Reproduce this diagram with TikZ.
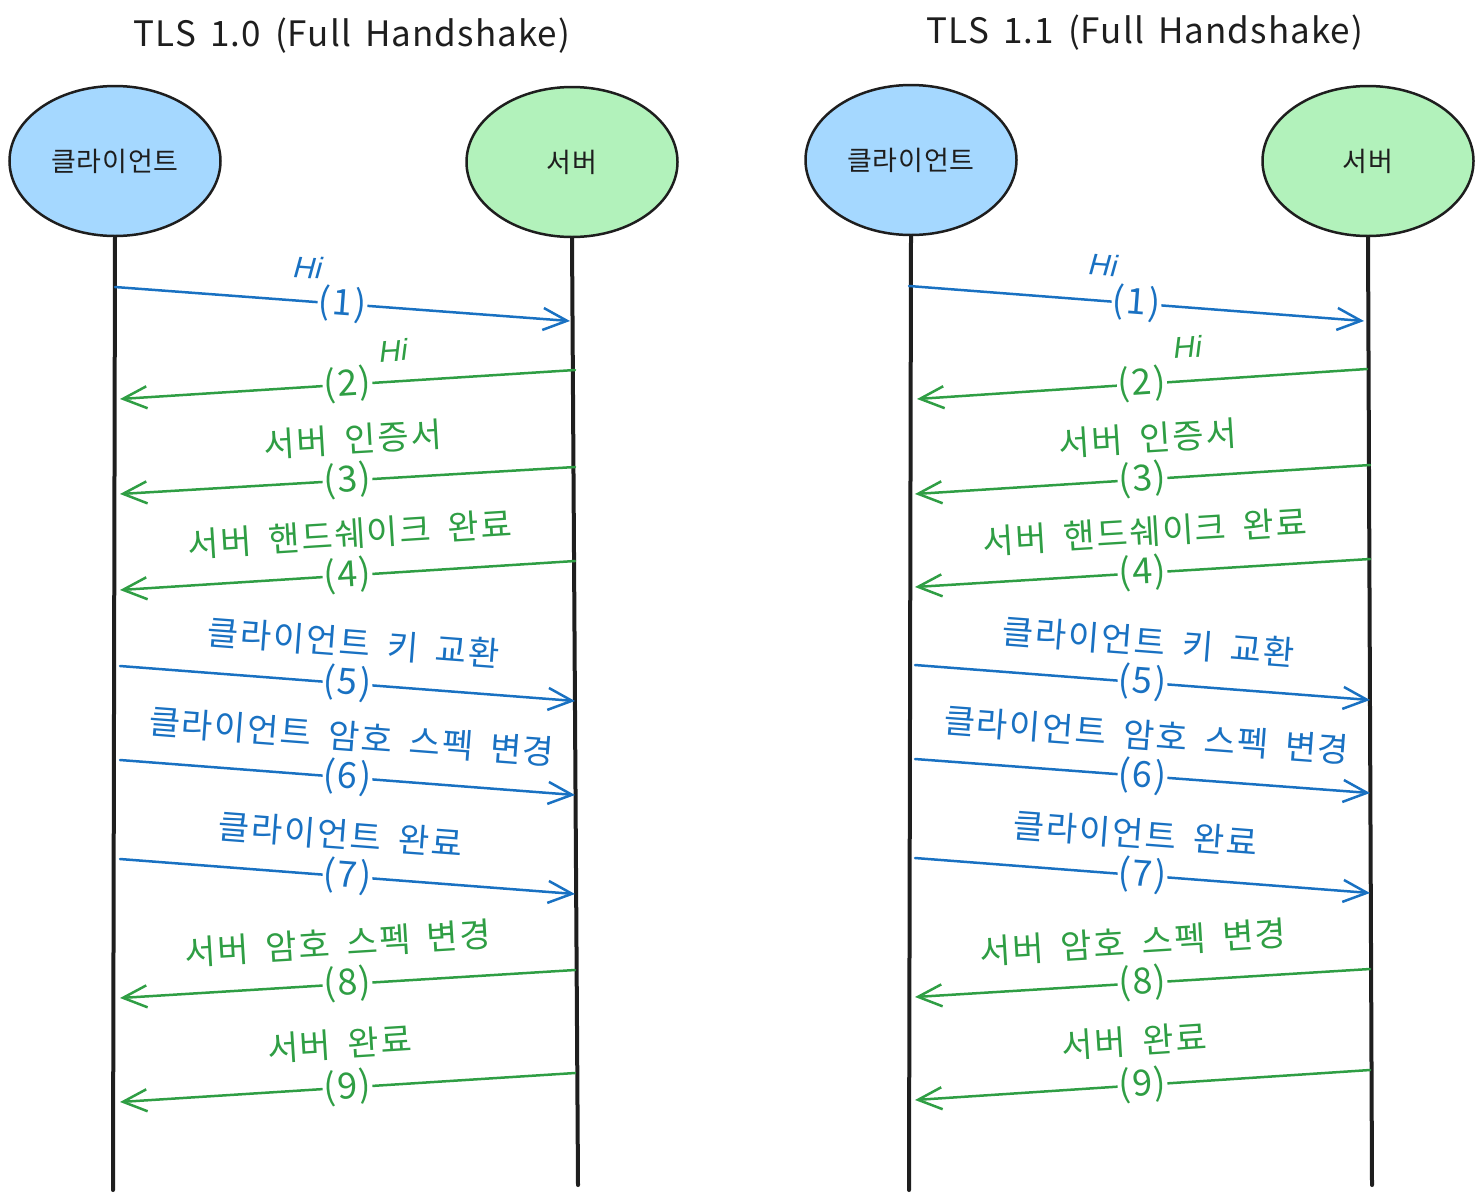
\documentclass[tikz,border=0pt]{standalone}
\usepackage{fontspec}
\setmainfont{Noto Sans CJK KR}
\newfontfamily\hifont{Liberation Sans}
\newfontfamily\widefont[LetterSpace=5,WordSpace=1.8]{Noto Sans CJK KR}
\newfontfamily\titlefont[LetterSpace=3,WordSpace=1.6]{Noto Sans CJK KR}
\usetikzlibrary{shapes.geometric,arrows.meta}
\definecolor{cblue}{HTML}{1971C2}
\definecolor{cgreen}{HTML}{2F9E44}
\definecolor{cink}{HTML}{1E1E1E}
\definecolor{cfillb}{HTML}{A5D8FF}
\definecolor{cfillg}{HTML}{B2F2BB}
\tikzset{
  actor/.style={ellipse, draw=cink, line width=2.5pt, minimum width=211pt, minimum height=150pt, inner sep=0pt, text=cink, font=\titlefont\fontsize{27}{32}\selectfont},
  lifeline/.style={draw=cink, line width=4pt, line cap=round},
  msg/.style={line width=2.5pt, line cap=round, line join=round, -{Straight Barb[length=24pt,width=22pt]}},
  bmsg/.style={msg, color=cblue},
  gmsg/.style={msg, color=cgreen},
  num/.style={midway, sloped, fill=white, inner sep=1pt, font=\widefont\fontsize{36}{42}\selectfont},
  lbl/.style={midway, sloped, yshift=41pt, inner sep=0pt, font=\widefont\fontsize{34}{40}\selectfont},
  hi/.style={midway, sloped, yshift=34pt, inner sep=0pt, font=\hifont\itshape\fontsize{30}{34}\selectfont},
  ttl/.style={text=cink, font=\titlefont\fontsize{35}{42}\selectfont}
}
\begin{document}
\begin{tikzpicture}[x=1pt,y=-1pt]
\useasboundingbox (0,0) rectangle (1482,1200);

% ---------- Left: TLS 1.0 ----------
\node[ttl] (t1) at (352,36) {TLS 1.0 (Full Handshake)};
\node[actor, fill=cfillb] (cl) at (115,161) {클라이언트};
\node[actor, fill=cfillg] (sv) at (572,162) {서버};
\coordinate (clEnd) at (113,1190);
\coordinate (svEnd) at (578,1185);
\draw[lifeline] (cl.south) -- (clEnd);
\draw[lifeline] (sv.south) -- (svEnd);

\coordinate (a1s) at (115,287);  \coordinate (a1e) at (570,321);
\coordinate (a2s) at (575,370);  \coordinate (a2e) at (120,399);
\coordinate (a3s) at (575,467);  \coordinate (a3e) at (120,494);
\coordinate (a4s) at (575,561);  \coordinate (a4e) at (120,590);
\coordinate (a5s) at (120,666);  \coordinate (a5e) at (575,701);
\coordinate (a6s) at (120,760);  \coordinate (a6e) at (575,795);
\coordinate (a7s) at (120,859);  \coordinate (a7e) at (575,894);
\coordinate (a8s) at (575,970);  \coordinate (a8e) at (120,998);
\coordinate (a9s) at (575,1073); \coordinate (a9e) at (120,1102);

\draw[bmsg] (a1s) -- node[num] (n1) {(1)} node[hi, xshift=-37pt] (h1) {Hi} (a1e);
\draw[gmsg] (a2s) -- node[num] (n2) {(2)} node[hi, xshift=48pt, yshift=-3pt] (h2) {Hi} (a2e);
\draw[gmsg] (a3s) -- node[num] (n3) {(3)} node[lbl, xshift=8pt] (l3) {서버 인증서} (a3e);
\draw[gmsg] (a4s) -- node[num] (n4) {(4)} node[lbl, xshift=5pt] (l4) {서버 핸드쉐이크 완료} (a4e);
\draw[bmsg] (a5s) -- node[num] (n5) {(5)} node[lbl, xshift=3pt] (l5) {클라이언트 키 교환} (a5e);
\draw[bmsg] (a6s) -- node[num] (n6) {(6)} node[lbl, xshift=1pt] (l6) {클라이언트 암호 스펙 변경} (a6e);
\draw[bmsg] (a7s) -- node[num] (n7) {(7)} node[lbl, xshift=-10pt] (l7) {클라이언트 완료} (a7e);
\draw[gmsg] (a8s) -- node[num] (n8) {(8)} node[lbl, xshift=-7pt] (l8) {서버 암호 스펙 변경} (a8e);
\draw[gmsg] (a9s) -- node[num] (n9) {(9)} node[lbl, xshift=-5pt, yshift=3pt] (l9) {서버 완료} (a9e);

% ---------- Right: TLS 1.1 ----------
\node[ttl] (t2) at (1145,33) {TLS 1.1 (Full Handshake)};
\node[actor, fill=cfillb] (cr) at (911,160) {클라이언트};
\node[actor, fill=cfillg] (sr) at (1368,161) {서버};
\coordinate (crEnd) at (909,1190);
\coordinate (srEnd) at (1372,1185);
\draw[lifeline] (cr.south) -- (crEnd);
\draw[lifeline] (sr.south) -- (srEnd);

\coordinate (b1s) at (909,286);   \coordinate (b1e) at (1364,321);
\coordinate (b2s) at (1367,369);  \coordinate (b2e) at (917,399);
\coordinate (b3s) at (1370,465);  \coordinate (b3e) at (915,494);
\coordinate (b4s) at (1370,559);  \coordinate (b4e) at (915,587);
\coordinate (b5s) at (915,665);   \coordinate (b5e) at (1370,700);
\coordinate (b6s) at (915,759);   \coordinate (b6e) at (1370,793);
\coordinate (b7s) at (915,858);   \coordinate (b7e) at (1370,893);
\coordinate (b8s) at (1370,969);  \coordinate (b8e) at (915,997);
\coordinate (b9s) at (1370,1070); \coordinate (b9e) at (915,1100);

\draw[bmsg] (b1s) -- node[num] (m1) {(1)} node[hi, xshift=-36pt, yshift=2pt] (g1) {Hi} (b1e);
\draw[gmsg] (b2s) -- node[num] (m2) {(2)} node[hi, xshift=48pt] (g2) {Hi} (b2e);
\draw[gmsg] (b3s) -- node[num] (m3) {(3)} node[lbl, xshift=8pt] (k3) {서버 인증서} (b3e);
\draw[gmsg] (b4s) -- node[num] (m4) {(4)} node[lbl, xshift=5pt] (k4) {서버 핸드쉐이크 완료} (b4e);
\draw[bmsg] (b5s) -- node[num] (m5) {(5)} node[lbl, xshift=3pt] (k5) {클라이언트 키 교환} (b5e);
\draw[bmsg] (b6s) -- node[num] (m6) {(6)} node[lbl, xshift=1pt] (k6) {클라이언트 암호 스펙 변경} (b6e);
\draw[bmsg] (b7s) -- node[num] (m7) {(7)} node[lbl, xshift=-10pt] (k7) {클라이언트 완료} (b7e);
\draw[gmsg] (b8s) -- node[num] (m8) {(8)} node[lbl, xshift=-7pt] (k8) {서버 암호 스펙 변경} (b8e);
\draw[gmsg] (b9s) -- node[num] (m9) {(9)} node[lbl, xshift=-5pt, yshift=3pt] (k9) {서버 완료} (b9e);
\end{tikzpicture}
\end{document}
